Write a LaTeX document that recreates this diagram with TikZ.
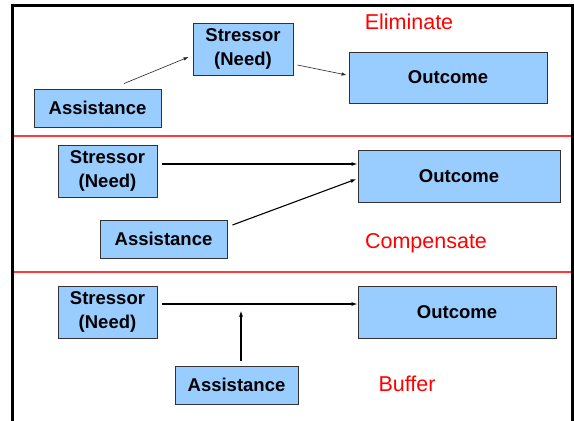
\documentclass[tikz,border=0pt]{standalone}
\usepackage{fontspec}
\setmainfont{Liberation Sans}
\usetikzlibrary{arrows.meta}
\definecolor{boxblue}{RGB}{153,204,255}
\definecolor{boxedge}{RGB}{50,50,50}
\definecolor{divider}{RGB}{255,60,60}
\begin{document}
\begin{tikzpicture}[x=1pt,y=-1pt,
  block/.style={draw=boxedge,line width=0.9pt,fill=boxblue,align=center,
    inner sep=0pt,font=\fontsize{18.5}{23.5}\selectfont\bfseries},
  tag/.style={text=red,font=\fontsize{21.5}{25}\selectfont,inner sep=0pt},
  thinlink/.style={draw=black!85,line width=0.6pt,-{Latex[length=5pt,width=3.5pt]}},
  link/.style={draw=black,line width=1.1pt,-{Latex[length=6pt,width=4pt]}},
  rule/.style={draw=divider,line width=1.3pt},
  frame/.style={draw=black,line width=3pt}]
\useasboundingbox (0,0) rectangle (574,421);
\fill[white] (0,0) rectangle (574,421);

% outer frame and section dividers
\draw[frame] (12.5,421) -- (12.5,5.5) -- (572.5,5.5) -- (572.5,421);
\draw[rule] (14,136) -- (571,136);
\draw[rule] (14,272) -- (571,272);

% Eliminate
\node[block,minimum width=127pt,minimum height=38pt] (a1) at (97.5,108) {Assistance};
\node[block,minimum width=100pt,minimum height=52pt] (s1) at (243,49) {Stressor\\(Need)};
\node[block,minimum width=198pt,minimum height=51pt] (o1) at (448,77.5) {Outcome};
\node[tag] (t1) at (409,22) {Eliminate};
\draw[thinlink] ([xshift=26.5pt,yshift=5pt]a1.north) -- ([xshift=-4pt,yshift=-8pt]s1.west);
\draw[thinlink] ([xshift=4pt,yshift=-16pt]s1.east) -- ([xshift=-2pt,yshift=2.5pt]o1.west);

% Compensate
\node[block,minimum width=99pt,minimum height=52pt] (s2) at (107.5,171) {Stressor\\(Need)};
\node[block,minimum width=127pt,minimum height=38pt] (a2) at (163.5,239) {Assistance};
\node[block,minimum width=202pt,minimum height=52pt] (o2) at (459,176) {Outcome};
\node[tag] (t2) at (426,243) {Compensate};
\draw[link] ([xshift=5pt,yshift=7pt]s2.east) -- ([yshift=12pt]o2.west);
\draw[link] ([xshift=5pt,yshift=14pt]a2.east) -- ([xshift=-1pt,yshift=-3pt]o2.west);

% Buffer
\node[block,minimum width=99pt,minimum height=52pt] (s3) at (107.5,312) {Stressor\\(Need)};
\node[block,minimum width=123pt,minimum height=38pt] (a3) at (236.5,385) {Assistance};
\node[block,minimum width=198pt,minimum height=52pt] (o3) at (457,312) {Outcome};
\node[tag] (t3) at (407,384) {Buffer};
\draw[link] ([xshift=5pt,yshift=8pt]s3.east) -- ([yshift=8pt]o3.west);
\draw[link] ([xshift=4.5pt,yshift=5pt]a3.north) -- ([xshift=4.5pt,yshift=55pt]a3.north);
\end{tikzpicture}
\end{document}
